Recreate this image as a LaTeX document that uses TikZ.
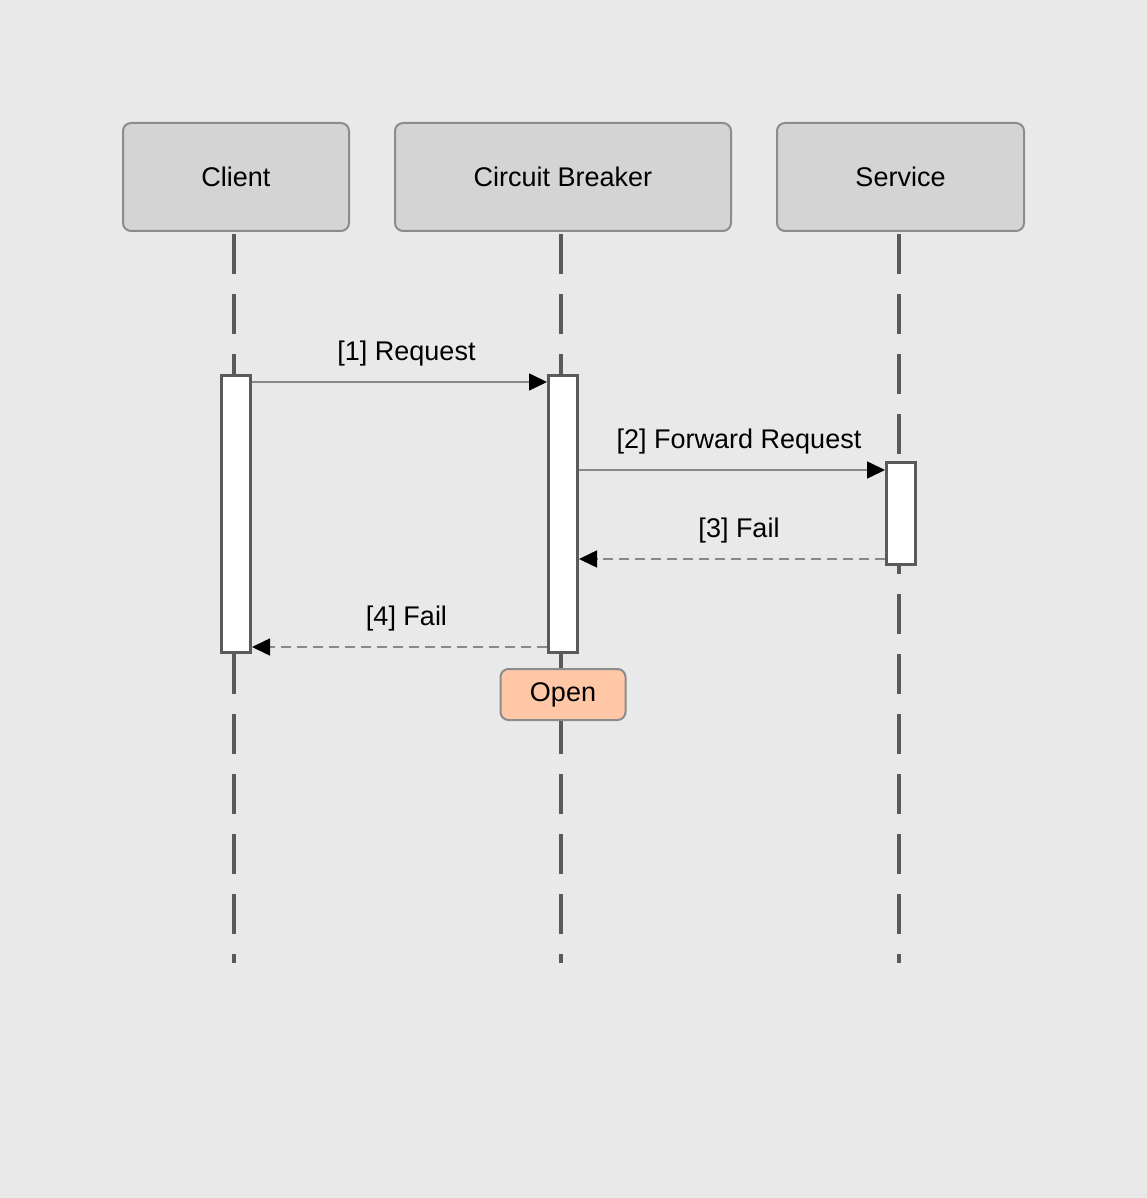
\documentclass[tikz,border=0pt]{standalone}
\usepackage{fontspec}
\setmainfont{Liberation Sans}
\usetikzlibrary{arrows.meta}
\definecolor{bg}{HTML}{E9E9E9}
\definecolor{actfill}{HTML}{D4D4D4}
\definecolor{actborder}{HTML}{8C8C8C}
\definecolor{lifec}{HTML}{5A5A5A}
\definecolor{msgc}{HTML}{888888}
\definecolor{openfill}{HTML}{FFC7A6}
\tikzset{
  actor/.style={draw=actborder, fill=actfill, line width=2pt, rounded corners=8pt,
    minimum height=108pt, inner sep=0pt, font=\fontsize{27}{31}\selectfont},
  lifeline/.style={draw=lifec, line width=4pt, dash pattern=on 40pt off 20pt},
  activation/.style={draw=lifec, fill=white, line width=3pt, minimum width=29pt, inner sep=0pt},
  msg/.style={draw=msgc, line width=1.6pt, -{Triangle[length=18pt,width=17pt,fill=black,color=black]}},
  rmsg/.style={msg, dash pattern=on 10pt off 6pt},
  lbl/.style={font=\fontsize{27}{31}\selectfont, midway, yshift=28.5pt, xshift=7pt},
  statebox/.style={draw=actborder, fill=openfill, line width=2pt, rounded corners=8pt,
    minimum width=125pt, minimum height=51pt, inner sep=0pt, font=\fontsize{27}{31}\selectfont},
}
\begin{document}
\begin{tikzpicture}[x=1pt, y=-1pt]
\useasboundingbox[fill=bg] (0,0) rectangle (1147,1198);
% actors
\node[actor, minimum width=226pt] (client) at (236,177) {Client};
\node[actor, minimum width=336pt] (cb) at (563,177) {Circuit Breaker};
\node[actor, minimum width=247pt] (svc) at (900.5,177) {Service};
% lifeline ends
\coordinate (clend) at (234,963);
\coordinate (cbend) at (561,963);
\coordinate (svend) at (899,963);
\draw[lifeline] (clend |- 0,234) -- (clend);
\draw[lifeline] (cbend |- 0,234) -- (cbend);
\draw[lifeline] (svend |- 0,234) -- (svend);
% activations
\node[activation, minimum height=277pt] (ca) at (236,514) {};
\node[activation, minimum height=277pt] (cba) at (563,514) {};
\node[activation, minimum height=102pt] (sa) at (901,513.5) {};
% state
\node[statebox] (open) at (563,694.5) {Open};
% messages
\draw[msg] (ca.east |- 0,382) -- (cba.west |- 0,382) node[lbl] {[1] Request};
\draw[msg] (cba.east |- 0,470) -- (sa.west |- 0,470) node[lbl] {[2] Forward Request};
\draw[rmsg] (sa.west |- 0,559) -- (cba.east |- 0,559) node[lbl] {[3] Fail};
\draw[rmsg] (cba.west |- 0,647) -- (ca.east |- 0,647) node[lbl] {[4] Fail};
\end{tikzpicture}
\end{document}
